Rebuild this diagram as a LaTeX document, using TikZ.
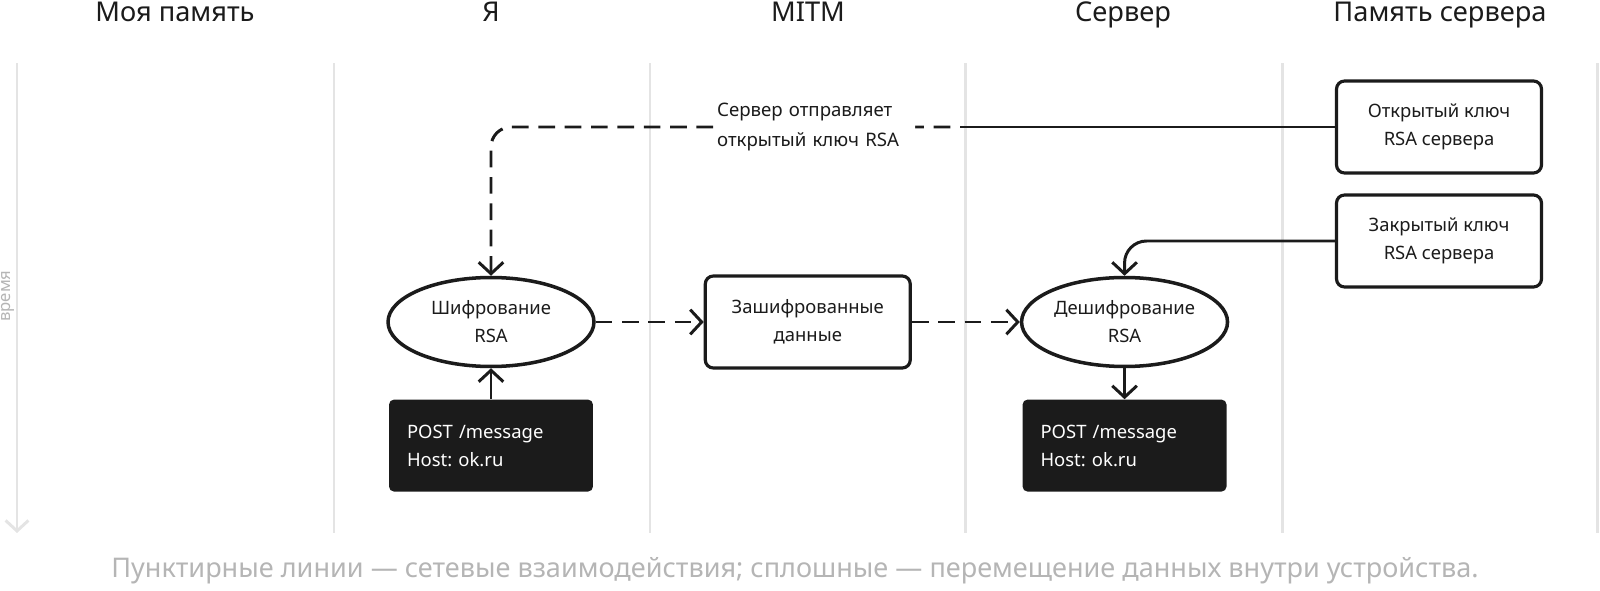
\documentclass[tikz,border=0pt]{standalone}
\usepackage{fontspec}
\setmainfont{Noto Sans}
\usetikzlibrary{arrows.meta,positioning,shapes.geometric}
\frenchspacing

\definecolor{ink}{HTML}{1B1B1B}
\definecolor{laneg}{HTML}{E4E4E4}
\definecolor{noteg}{HTML}{B5B5B5}

\begin{document}
\begin{tikzpicture}[
  x=0.02cm,y=-0.02cm,
  node distance=6.2mm and 21.6mm,
  head/.style={anchor=base,text=ink,font=\fontsize{15.5}{18}\selectfont},
  lane/.style={draw=laneg,line width=1.7pt},
  oval/.style={draw=ink,ellipse,inner sep=0pt,line width=2pt,minimum width=4.12cm,minimum height=1.78cm,align=center,text=ink,font=\fontsize{10.5}{16}\selectfont},
  box/.style={draw=ink,rounded corners=0.16cm,line width=1.8pt,minimum width=4.1cm,minimum height=1.84cm,align=center,text=ink,font=\fontsize{10.5}{16}\selectfont},
  req/.style={fill=ink,rounded corners=0.1cm,text=white,text width=3.36cm,inner xsep=0.36cm,minimum height=1.84cm,align=left,font=\fontsize{10.5}{16}\selectfont},
  net/.style={draw=ink,line width=1.7pt,dash pattern=on 9.5pt off 5.5pt,-{Straight Barb[length=6.5pt,width=14pt]}},
  local/.style={draw=ink,line width=1.7pt,-{Straight Barb[length=6.5pt,width=14pt]}}
]
  \useasboundingbox (0,0) rectangle (1600,591);

  \foreach \x/\t/\n in {175/Моя память/hmem,491/Я/hme,808/MITM/hmitm,1123/Сервер/hsrv,1440/Память сервера/hsrvmem}
    \node[head] (\n) at (\x,22) {\t};
  \foreach \x in {334,650,965,1282,1597}
    \draw[lane] (\x,63) -- (\x,533);
  \draw[lane,-{Straight Barb[length=6pt,width=13pt]}] (17,63) -- (17,533);
  \node[rotate=90,text=noteg,font=\fontsize{9.5}{11}\selectfont] (time) at (8,296) {время};

  \node[oval] (enc) at (491,322) {Шифрование\\RSA};
  \node[box,right=of enc] (encdata) {Зашифрованные\\данные};
  \node[oval,right=of encdata] (dec) {Дешифрование\\RSA};
  \node[req,below=of enc] (reqme) {POST /message\\Host: ok.ru};
  \node[req,below=of dec] (reqsrv) {POST /message\\Host: ok.ru};
  \node[box] (pubkey) at (1439,127) {Открытый ключ\\RSA сервера};
  \node[box] (privkey) at (1439,241) {Закрытый ключ\\RSA сервера};
  \coordinate (srvedge) at (960,127);

  \draw[ink,line width=1.7pt] (pubkey.west) -- (srvedge);
  \draw[net,dash phase=9.5pt,rounded corners=0.4cm] (srvedge) -| node[pos=.155,fill=white,align=left,text=ink,inner xsep=0.06cm,text width=3.9cm,font=\fontsize{10.6}{16.8}\selectfont]{Сервер отправляет\\открытый ключ RSA} (enc.north);
  \draw[net] (enc) -- (encdata);
  \draw[net] (encdata) -- (dec);
  \draw[local] (reqme) -- (enc);
  \draw[local] (dec) -- (reqsrv);
  \draw[local,rounded corners=0.44cm] (privkey.west) -| (dec.north);

  \node[anchor=base,text=noteg,font=\fontsize{15.4}{18}\selectfont] (note) at (795,577) {Пунктирные линии — сетевые взаимодействия; сплошные — перемещение данных внутри устройства.};
\end{tikzpicture}
\end{document}
